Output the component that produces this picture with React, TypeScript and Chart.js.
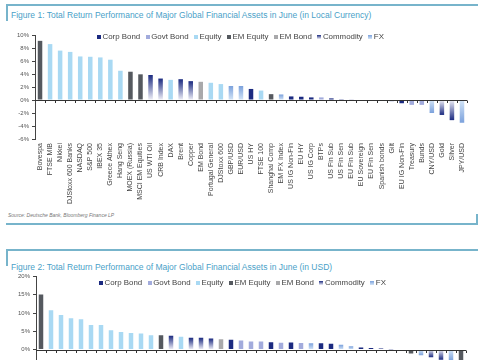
import { useEffect, useRef } from 'react';
import { Chart, registerables } from 'chart.js';

Chart.register(...registerables);

const FONT = '"Liberation Sans", Arial, sans-serif';

const legendItems = ['Corp Bond', 'Govt Bond', 'Equity', 'EM Equity', 'EM Bond', 'Commodity', 'FX'];

// Figure 1 (local currency)
const fig1Labels = [
  'Bovespa', 'FTSE MIB', 'Nikkei', 'DJStoxx 600 Banks', 'NASDAQ', 'S&P 500', 'IBEX 35', 'Greece Athex',
  'Hang Seng', 'MOEX (Russia)', 'MSCI EM Equities', 'US WTI Oil', 'CRB Index', 'DAX', 'Brent', 'Copper',
  'EM Bond', 'Portugal General', 'DJStoxx 600', 'GBP/USD', 'EUR/USD', 'US HY', 'FTSE 100', 'Shanghai Comp',
  'EM FX Index', 'US IG Non-Fin', 'EU HY', 'US IG Corp', 'BTPs', 'US Fin Sub', 'US Fin Sen', 'EU Fin Sub',
  'EU Sovereign', 'EU Fin Sen', 'Spanish bonds', 'Gilt', 'EU IG Non-Fin', 'Treasury', 'Bunds', 'CNY/USD',
  'Gold', 'Silver', 'JPY/USD',
];
const fig1Values = [
  9.1, 8.6, 7.6, 7.4, 6.7, 6.65, 6.55, 6.2,
  4.5, 4.35, 3.95, 3.85, 3.3, 3.1, 3.2, 2.9,
  2.8, 2.65, 2.45, 2.15, 2.15, 1.7, 1.45, 0.9,
  0.85, 0.55, 0.5, 0.4, 0.4, 0.25, 0.12, 0.06,
  -0.05, -0.15, -0.1, -0.2, -0.5, -0.75, -0.75, -2.0,
  -2.3, -3.1, -3.5,
];
const fig1Types = [
  'EM Equity', 'Equity', 'Equity', 'Equity', 'Equity', 'Equity', 'Equity', 'Equity',
  'Equity', 'EM Equity', 'EM Equity', 'Commodity', 'Commodity', 'Equity', 'Commodity', 'Commodity',
  'EM Bond', 'Equity', 'Equity', 'FX', 'FX', 'Corp Bond', 'Equity', 'EM Equity',
  'FX', 'Corp Bond', 'Corp Bond', 'Corp Bond', 'Govt Bond', 'Corp Bond', 'Corp Bond', 'Corp Bond',
  'Govt Bond', 'Corp Bond', 'Govt Bond', 'Govt Bond', 'Corp Bond', 'Govt Bond', 'Govt Bond', 'FX',
  'Commodity', 'Commodity', 'FX',
];

// Figure 2 (USD)
const fig2Labels = [
  'Bovespa', 'FTSE MIB', 'DJStoxx 600 Banks', 'Greece Athex', 'IBEX 35', 'NASDAQ', 'S&P 500', 'Nikkei',
  'DAX', 'Portugal General', 'DJStoxx 600', 'Hang Seng', 'MOEX (Russia)', 'US WTI Oil', 'FTSE 100', 'CRB Index',
  'Brent', 'Copper', 'EM Bond', 'EU HY', 'BTPs', 'EU Sovereign', 'Spanish bonds', 'EU Fin Sub',
  'Bunds', 'EU Fin Sen', 'Gilt', 'EUR/USD', 'EU IG Non-Fin', 'US HY', 'GBP/USD', 'EM FX Index',
  'US IG Non-Fin', 'US IG Corp', 'US Fin Sub', 'US Fin Sen', 'Treasury', 'Shanghai Comp', 'CNY/USD', 'Gold',
  'Silver', 'JPY/USD', 'MSCI EM Equities',
];
const fig2Values = [
  15.1, 10.8, 9.5, 8.6, 8.3, 6.7, 6.7, 5.3,
  4.8, 4.5, 4.4, 3.9, 3.9, 3.8, 3.5, 3.2,
  3.2, 3.0, 2.8, 2.7, 2.5, 2.2, 2.2, 2.0,
  1.85, 1.9, 1.8, 1.75, 1.7, 1.6, 1.3, 0.9,
  0.55, 0.4, 0.25, 0.1, -0.1, -1.1, -1.6, -2.1,
  -2.8, -3.0, -7.0,
];
const fig2Types = [
  'EM Equity', 'Equity', 'Equity', 'Equity', 'Equity', 'Equity', 'Equity', 'Equity',
  'Equity', 'Equity', 'Equity', 'Equity', 'EM Equity', 'Commodity', 'Equity', 'Commodity',
  'Commodity', 'Commodity', 'EM Bond', 'Corp Bond', 'Govt Bond', 'Govt Bond', 'Govt Bond', 'Corp Bond',
  'Govt Bond', 'Corp Bond', 'Govt Bond', 'FX', 'Corp Bond', 'Corp Bond', 'FX', 'FX',
  'Corp Bond', 'Corp Bond', 'Corp Bond', 'Corp Bond', 'Govt Bond', 'EM Equity', 'FX', 'Commodity',
  'Commodity', 'FX', 'EM Equity',
];

const SOLID: Record<string, string> = {
  'Corp Bond': '#1b2a80',
  'Govt Bond': '#a2abdc',
  'Equity': '#a9d9f3',
  'EM Equity': '#55595f',
  'EM Bond': '#a9a9ab',
};
const GRAD: Record<string, [string, string]> = {
  Commodity: ['#1b2a80', '#f0f0f8'],
  FX: ['#7ba1dc', '#d4e5f7'],
};

const zeroLine = {
  id: 'zeroLine',
  afterDatasetsDraw(chart: any) {
    const { ctx, chartArea, scales } = chart;
    const y = scales.y;
    const py = Math.round(y.getPixelForValue(0)) + 0.5;
    const n = chart.data.labels.length;
    const w = (chartArea.right - chartArea.left) / n;
    ctx.save();
    ctx.strokeStyle = '#333';
    ctx.lineWidth = 1;
    ctx.beginPath();
    ctx.moveTo(chartArea.left, py);
    ctx.lineTo(chartArea.right, py);
    for (let i = 1; i <= n; i++) {
      const px = Math.round(chartArea.left + i * w) + 0.5;
      ctx.moveTo(px, py);
      ctx.lineTo(px, py + 2.5);
    }
    ctx.stroke();
    ctx.restore();
  },
};

type BarProps = {
  labels: string[];
  values: number[];
  types: string[];
  min: number;
  max: number;
  step: number;
  top: number;
  height: number;
  padTop: number;
  axisWidth: number;
  padRight: number;
};

function BarChart(p: BarProps) {
  const ref = useRef<HTMLCanvasElement>(null);
  useEffect(() => {
    if (!ref.current) return;
    const chart = new Chart(ref.current, {
      type: 'bar',
      data: {
        labels: p.labels,
        datasets: [
          {
            data: p.values,
            barPercentage: 0.9,
            categoryPercentage: 0.5,
            backgroundColor: (ctx: any) => {
              const t = p.types[ctx.dataIndex];
              if (SOLID[t]) return SOLID[t];
              const [far, near] = GRAD[t];
              const c = ctx.chart;
              const ys = c.scales && c.scales.y;
              if (!ys || !c.chartArea) return far;
              const v = p.values[ctx.dataIndex];
              const p0 = ys.getPixelForValue(0);
              const p1 = ys.getPixelForValue(v);
              if (Math.abs(p1 - p0) < 0.5) return far;
              const g = c.ctx.createLinearGradient(0, p1, 0, p0);
              g.addColorStop(0, far);
              g.addColorStop(1, near);
              return g;
            },
          },
        ],
      },
      options: {
        responsive: false,
        animation: false,
        devicePixelRatio: 1,
        layout: { padding: { top: p.padTop, right: p.padRight, left: 0, bottom: 0 } },
        plugins: { legend: { display: false }, tooltip: { enabled: false } },
        scales: {
          x: {
            grid: { display: false, drawTicks: false },
            border: { display: false },
            ticks: {
              autoSkip: false,
              maxRotation: 90,
              minRotation: 90,
              padding: 4,
              color: '#444',
              font: { size: 7, family: FONT },
            },
            afterFit: (s: any) => {
              s.height = 72;
            },
          },
          y: {
            min: p.min,
            max: p.max,
            ticks: {
              stepSize: p.step,
              callback: (v: any) => v + '%',
              color: '#555',
              padding: 3,
              font: { size: 6, family: FONT },
            },
            grid: { display: true, drawOnChartArea: false, drawTicks: true, tickLength: 3, color: '#444' },
            border: { display: true, color: '#444' },
            afterFit: (s: any) => {
              s.width = p.axisWidth;
            },
          },
        },
      },
      plugins: [zeroLine],
    });
    return () => chart.destroy();
  }, []);
  return (
    <div style={{ position: 'absolute', left: 0, top: p.top, width: 485, height: p.height }}>
      <canvas ref={ref} width={485} height={p.height} style={{ display: 'block' }} />
    </div>
  );
}

function markerStyle(t: string): any {
  if (SOLID[t]) return { background: SOLID[t] };
  const [far, near] = GRAD[t];
  return { background: `linear-gradient(${far}, ${near})` };
}

function Legend({ left, top }: { left: number; top: number }) {
  return (
    <div
      style={{
        position: 'absolute',
        left,
        top,
        display: 'flex',
        alignItems: 'center',
        fontFamily: FONT,
        fontSize: 7.9,
        color: '#444',
        whiteSpace: 'nowrap',
        lineHeight: '9px',
      }}
    >
      {legendItems.map((t) => (
        <div key={t} style={{ display: 'flex', alignItems: 'center', marginRight: 5.5 }}>
          <span style={{ display: 'inline-block', width: 4, height: 4, marginRight: 1.5, ...markerStyle(t) }} />
          <span>{t}</span>
        </div>
      ))}
    </div>
  );
}

const LINE = '#77b4cb';
const TITLE = '#4a9fc8';

export default function App() {
  return (
    <div
      style={{
        position: 'absolute',
        left: 0,
        top: 0,
        width: 485,
        height: 360,
        overflow: 'hidden',
        background: '#fff',
        fontFamily: FONT,
      }}
    >
      {/* Figure 1 frame */}
      <div style={{ position: 'absolute', left: 6, top: 4, width: 472, height: 2, background: LINE }} />
      <div style={{ position: 'absolute', left: 6, top: 4, width: 2, height: 17, background: LINE }} />
      <div style={{ position: 'absolute', left: 11, top: 10, fontSize: 8.5, color: TITLE, whiteSpace: 'nowrap' }}>
        Figure 1: Total Return Performance of Major Global Financial Assets in June (in Local Currency)
      </div>
      <BarChart
        labels={fig1Labels}
        values={fig1Values}
        types={fig1Types}
        min={-6}
        max={10}
        step={2}
        top={28}
        height={183}
        padTop={7}
        axisWidth={35}
        padRight={18}
      />
      <Legend left={97} top={32} />
      <div
        style={{
          position: 'absolute',
          left: 8,
          top: 212,
          fontSize: 5,
          fontStyle: 'italic',
          color: '#777',
          whiteSpace: 'nowrap',
        }}
      >
        Source: Deutsche Bank, Bloomberg Finance LP
      </div>
      <div style={{ position: 'absolute', left: 6, top: 223, width: 472, height: 2, background: LINE }} />
      <div style={{ position: 'absolute', left: 476, top: 214, width: 2, height: 11, background: LINE }} />

      {/* Figure 2 frame */}
      <div style={{ position: 'absolute', left: 6, top: 249, width: 472, height: 2, background: LINE }} />
      <div style={{ position: 'absolute', left: 6, top: 249, width: 2, height: 17, background: LINE }} />
      <div style={{ position: 'absolute', left: 11, top: 262, fontSize: 8.5, color: TITLE, whiteSpace: 'nowrap' }}>
        Figure 2: Total Return Performance of Major Global Financial Assets in June (in USD)
      </div>
      <BarChart
        labels={fig2Labels}
        values={fig2Values}
        types={fig2Types}
        min={-10}
        max={20}
        step={5}
        top={270}
        height={188}
        padTop={6}
        axisWidth={36}
        padRight={19}
      />
      <Legend left={99} top={278} />
    </div>
  );
}
